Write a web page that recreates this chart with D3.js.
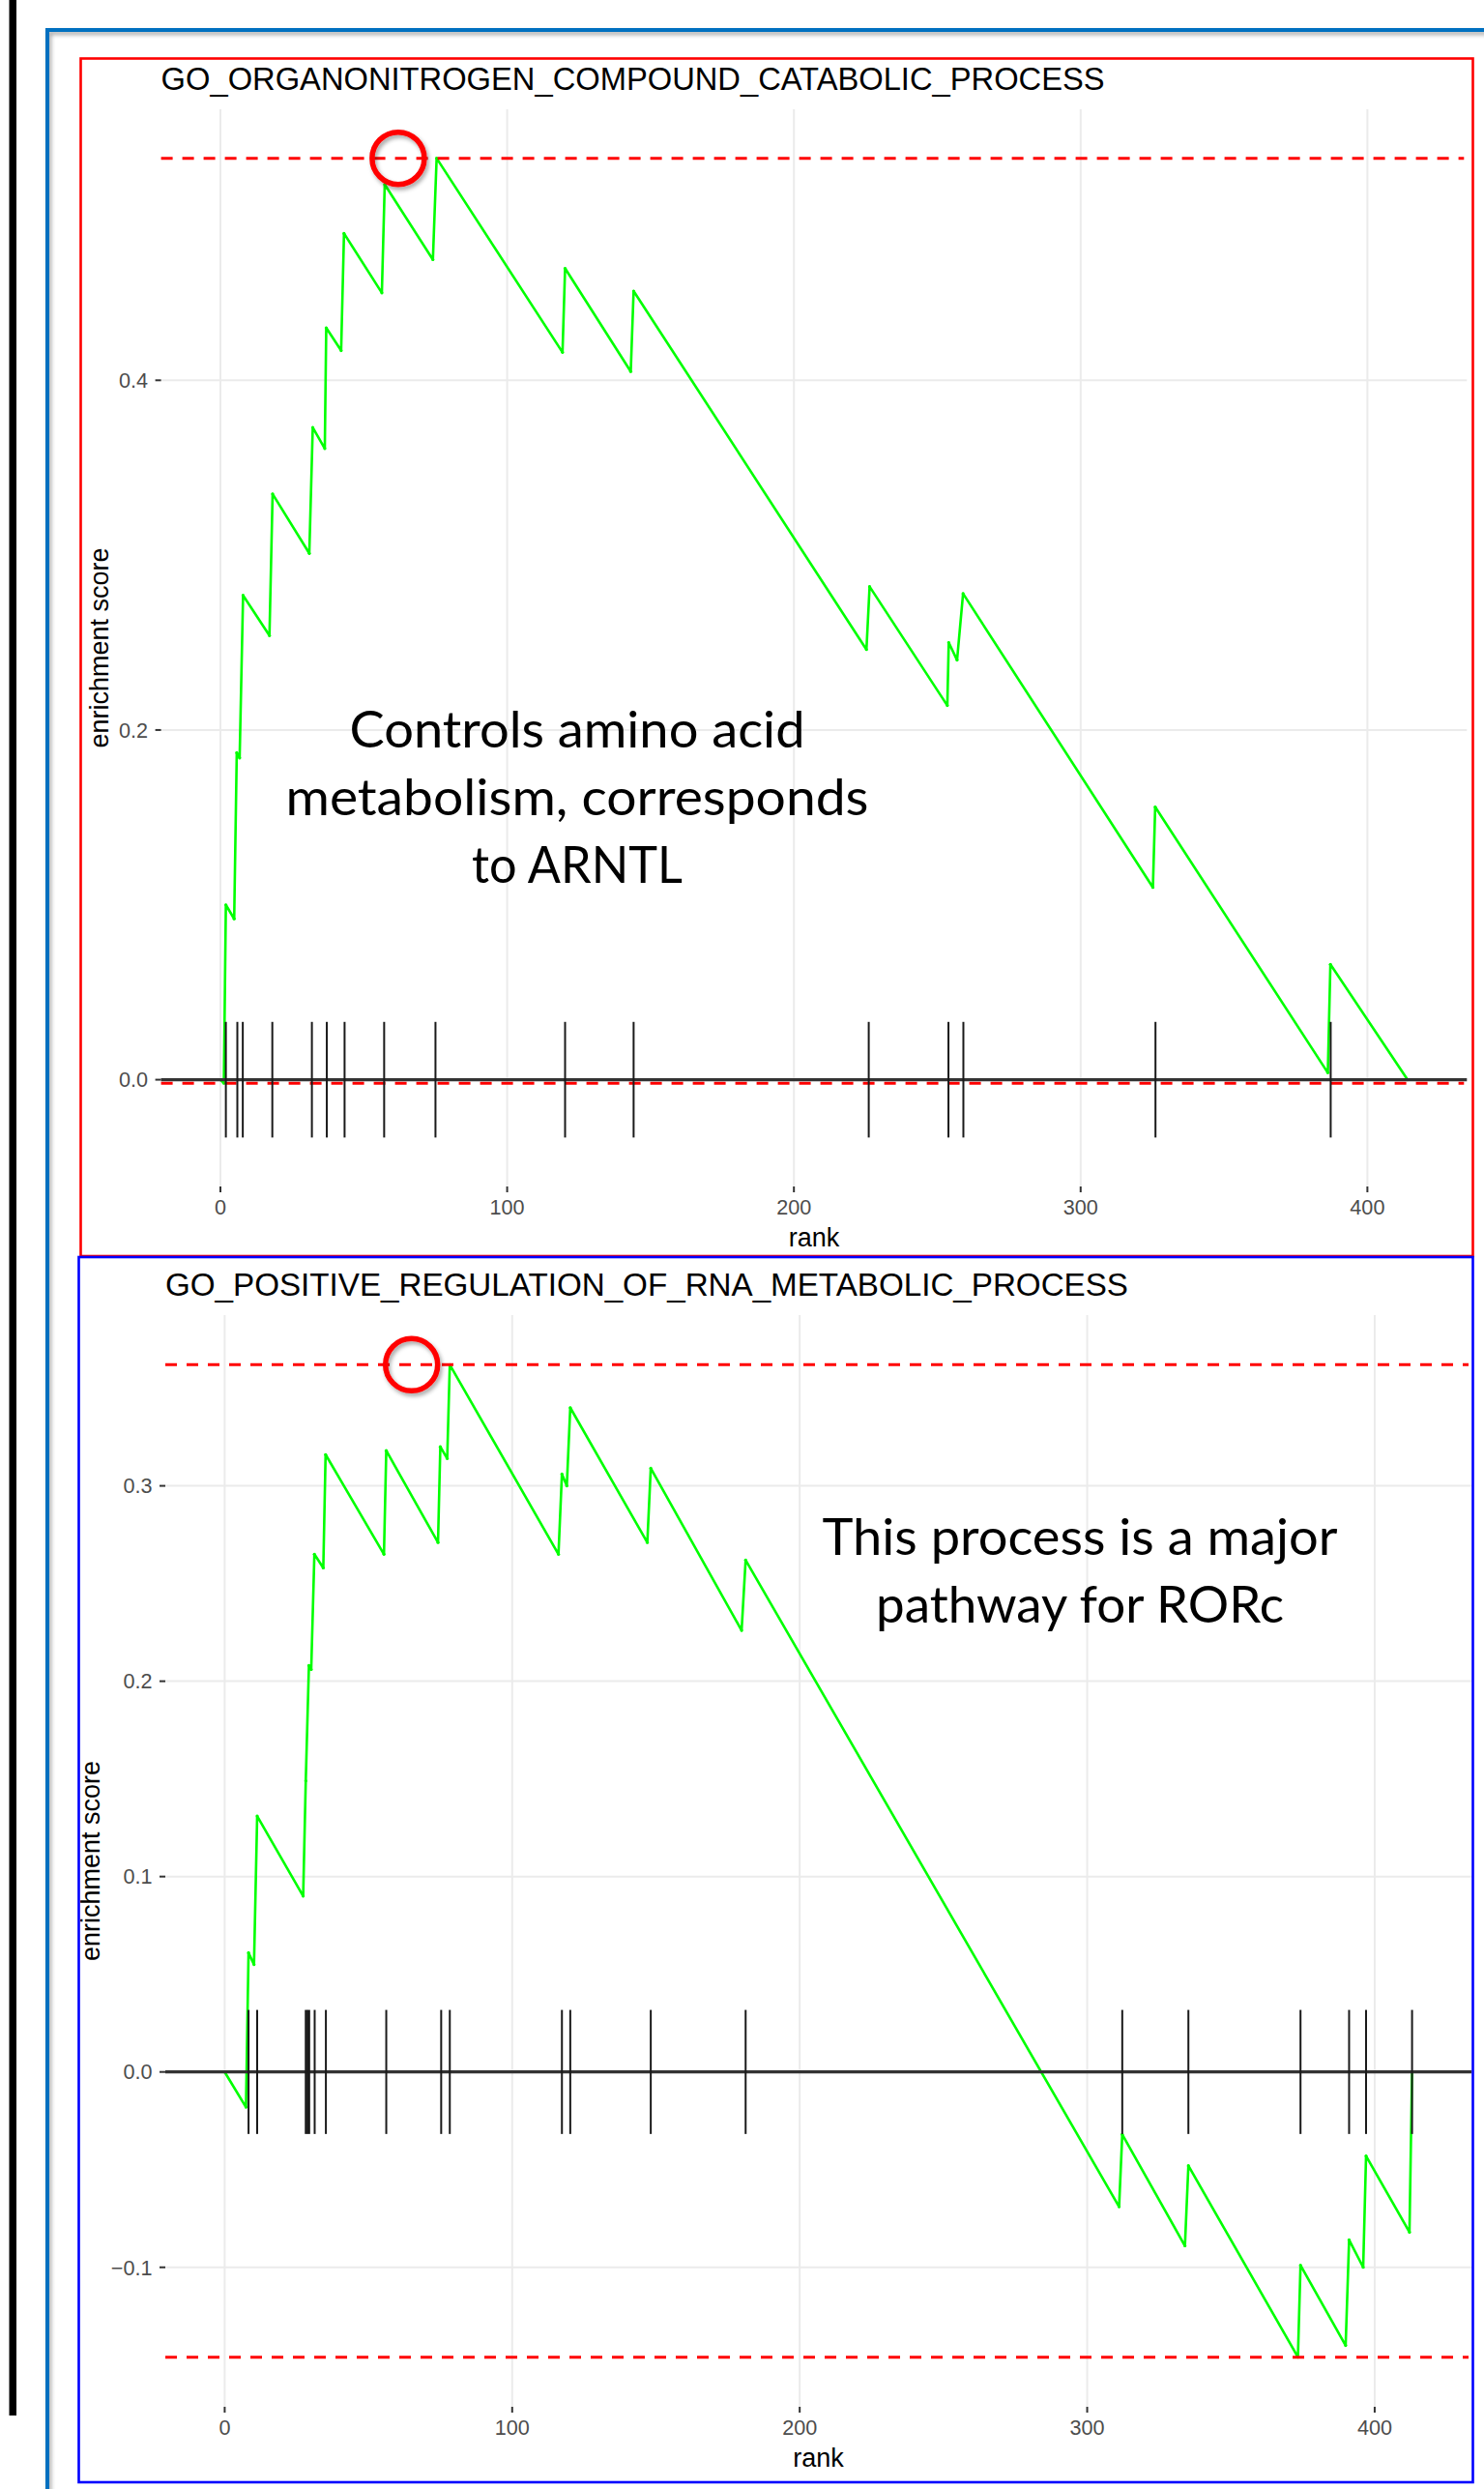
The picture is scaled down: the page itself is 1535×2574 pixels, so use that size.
<!DOCTYPE html>
<html>
<head>
<meta charset="utf-8">
<script src="https://cdn.jsdelivr.net/npm/d3@7"></script>
<style>
  body { margin: 0; background: #fff; }
  svg { display: block; }
</style>
</head>
<body>
<div id="chart"></div>
<script>
// ---- values ----
const xTicks = [0, 100, 200, 300, 400];

const title1 = "GO_ORGANONITROGEN_COMPOUND_CATABOLIC_PROCESS";
const rank1 = [0, 1.2, 1.9, 4.8, 5.7, 6.7, 7.9, 17.1, 18.2, 31, 32.2, 36.4, 36.9, 42.1, 43.1, 56.3, 57.3, 74.1, 75.4, 119.3,
    120.2, 143.1, 144.1, 225.3, 226.4, 253.5, 254, 256.9, 259, 325.2, 326, 386.2, 387.1, 414];
const es1 = [0, -0.002, 0.100, 0.092, 0.187, 0.184, 0.277, 0.254, 0.335, 0.301, 0.373, 0.361, 0.430, 0.417, 0.484, 0.450, 0.512, 0.469, 0.527, 0.416,
    0.464, 0.405, 0.451, 0.246, 0.282, 0.214, 0.250, 0.240, 0.278, 0.110, 0.156, 0.004, 0.066, 0];
const hits1 = [1.9, 5.9, 7.8, 18.1, 31.9, 37.1, 43.3, 57.1, 75.0, 120.2, 144.1, 226.1, 253.9, 259.1, 326.1, 387.2];
const yTicks1 = [0, 0.2, 0.4];
const note1 = ["Controls amino acid", "metabolism, corresponds", "to ARNTL"];

const title2 = "GO_POSITIVE_REGULATION_OF_RNA_METABOLIC_PROCESS";
const rank2 = [0, 7.4, 8.3, 10.2, 11.3, 27.3, 28.2, 29.3, 30.1, 31.2, 34.3, 35.1, 55.4, 56.2, 74.2, 75.0, 77.4, 78.3, 116.1, 117.3,
    119.0, 120.2, 147.0, 148.2, 179.8, 181.2, 311.1, 312.2, 334.0, 335.2, 373.3, 374.2, 389.9, 391.1, 396.0, 397.0, 412.1, 413.0];
const es2 = [0, -0.018, 0.061, 0.055, 0.131, 0.090, 0.149, 0.208, 0.206, 0.265, 0.258, 0.316, 0.265, 0.318, 0.271, 0.320, 0.314, 0.362, 0.265, 0.306,
    0.300, 0.340, 0.271, 0.309, 0.226, 0.262, -0.069, -0.032, -0.089, -0.048, -0.146, -0.099, -0.140, -0.086, -0.100, -0.043, -0.082, 0];
const hits2 = [8.3, 11.3, 28.2, 28.8, 29.4, 31.3, 35.2, 56.2, 75.3, 78.3, 117.3, 120.2, 148.2, 181.2, 312.2, 335.2, 374.2, 391.1, 397.0, 413.0];
const yTicks2 = [-0.1, 0, 0.1, 0.2, 0.3];
const note2 = ["This process is a major", "pathway for RORc"];

const W = 1535, H = 2574;
const sansFont = "'Liberation Sans', Arial, sans-serif";

const svg = d3.select("#chart").append("svg")
    .attr("width", W)
    .attr("height", H);

const defs = svg.append("defs");
defs.append("filter").attr("id", "shadow")
    .attr("x", "-20%").attr("y", "-20%").attr("width", "140%").attr("height", "140%")
    .append("feDropShadow")
    .attr("dx", 2).attr("dy", 3).attr("stdDeviation", 2)
    .attr("flood-color", "#000").attr("flood-opacity", 0.35);

class EnrichmentPlot {
    constructor(svg, cfg) {
        this.svg = svg;
        this.cfg = cfg;
        this.initVis();
    }

    initVis() {
        let vis = this;
        let c = vis.cfg;
        vis.g = vis.svg.append("g");

        vis.points = c.ranks.map((r, i) => ({ rank: r, es: c.es[i] }));
        vis.top = d3.max(c.es);
        vis.bottom = d3.min(c.es);
        let diff = (vis.top - vis.bottom) / 8;

        // ggplot style 5% expansion of the data range
        let xExt = d3.extent(c.ranks);
        let yExt = [Math.min(vis.bottom, -diff / 2), Math.max(vis.top, diff / 2)];
        let xPad = (xExt[1] - xExt[0]) * 0.05;
        let yPad = (yExt[1] - yExt[0]) * 0.05;

        vis.x = d3.scaleLinear()
            .domain([xExt[0] - xPad, xExt[1] + xPad])
            .range([c.left, c.right]);
        vis.y = d3.scaleLinear()
            .domain([yExt[0] - yPad, yExt[1] + yPad])
            .range([c.bottom, c.top]);

        // grid
        vis.g.selectAll(".vgrid").data(xTicks).enter().append("line")
            .attr("x1", d => vis.x(d)).attr("x2", d => vis.x(d))
            .attr("y1", c.top).attr("y2", c.bottom)
            .attr("stroke", "#ebebeb").attr("stroke-width", 2);
        vis.g.selectAll(".hgrid").data(c.yTicks).enter().append("line")
            .attr("x1", c.left).attr("x2", c.right)
            .attr("y1", d => vis.y(d)).attr("y2", d => vis.y(d))
            .attr("stroke", "#ebebeb").attr("stroke-width", 2);

        // running score
        let line = d3.line()
            .x(d => vis.x(d.rank))
            .y(d => vis.y(d.es));
        vis.g.append("path")
            .datum(vis.points)
            .attr("fill", "none")
            .attr("stroke", "#00ff00")
            .attr("stroke-width", 2.6)
            .attr("stroke-linejoin", "round")
            .attr("d", line);
        vis.g.selectAll(".pt").data(vis.points).enter().append("circle")
            .attr("cx", d => vis.x(d.rank)).attr("cy", d => vis.y(d.es))
            .attr("r", 1.6).attr("fill", "#00ff00");

        // max / min dashed lines
        vis.g.selectAll(".lim").data([vis.top, vis.bottom]).enter().append("line")
            .attr("x1", c.left).attr("x2", c.right - 3)
            .attr("y1", d => vis.y(d)).attr("y2", d => vis.y(d))
            .attr("stroke", "#ff0000").attr("stroke-width", 3)
            .attr("stroke-dasharray", "12 10");

        // zero line
        vis.g.append("line")
            .attr("x1", c.left).attr("x2", c.right)
            .attr("y1", vis.y(0)).attr("y2", vis.y(0))
            .attr("stroke", "#333").attr("stroke-width", 3.2);

        // hit ticks
        vis.g.selectAll(".hit").data(c.hits).enter().append("line")
            .attr("x1", d => vis.x(d)).attr("x2", d => vis.x(d))
            .attr("y1", vis.y(-diff / 2)).attr("y2", vis.y(diff / 2))
            .attr("stroke", "#1a1a1a").attr("stroke-width", 2);

        vis.drawAxes();
        vis.drawNotes();
    }

    drawAxes() {
        let vis = this;
        let c = vis.cfg;
        let fmt = d3.format(".1f");

        // y axis ticks + labels
        vis.g.selectAll(".yt").data(c.yTicks).enter().append("line")
            .attr("x1", c.left - 6).attr("x2", c.left)
            .attr("y1", d => vis.y(d)).attr("y2", d => vis.y(d))
            .attr("stroke", "#333").attr("stroke-width", 2);
        let ylabels = vis.g.selectAll(".yl").data(c.yTicks).enter().append("text")
            .attr("x", c.left - 13.5)
            .attr("y", d => vis.y(d))
            .attr("dy", "0.36em")
            .attr("text-anchor", "end")
            .attr("font-family", sansFont)
            .attr("font-size", 21.6)
            .attr("fill", "#4d4d4d")
            .text(d => fmt(d));

        // x axis ticks + labels
        vis.g.selectAll(".xt").data(xTicks).enter().append("line")
            .attr("x1", d => vis.x(d)).attr("x2", d => vis.x(d))
            .attr("y1", c.bottom).attr("y2", c.bottom + 6)
            .attr("stroke", "#333").attr("stroke-width", 2);
        vis.g.selectAll(".xl").data(xTicks).enter().append("text")
            .attr("x", d => vis.x(d))
            .attr("y", c.bottom + 28.5)
            .attr("text-anchor", "middle")
            .attr("font-family", sansFont)
            .attr("font-size", 21.6)
            .attr("fill", "#4d4d4d")
            .text(d => d);

        // axis titles
        vis.g.append("text")
            .attr("x", (c.left + c.right) / 2)
            .attr("y", c.bottom + 62)
            .attr("text-anchor", "middle")
            .attr("font-family", sansFont)
            .attr("font-size", 27)
            .attr("fill", "#000")
            .text("rank");

        let widest = d3.max(ylabels.nodes(), n => n.getComputedTextLength());
        let yTitleX = c.left - 13.5 - widest - 11.5;
        vis.g.append("text")
            .attr("transform", `translate(${yTitleX},${(c.top + c.bottom) / 2}) rotate(-90)`)
            .attr("text-anchor", "middle")
            .attr("font-family", sansFont)
            .attr("font-size", 27)
            .attr("fill", "#000")
            .text("enrichment score");

        // plot title
        vis.g.append("text")
            .attr("x", c.left)
            .attr("y", c.top - 20)
            .attr("font-family", sansFont)
            .attr("font-size", 32.6)
            .attr("fill", "#000")
            .attr("textLength", c.titleW)
            .attr("lengthAdjust", "spacingAndGlyphs")
            .text(c.title);
    }

    drawNotes() {
        let vis = this;
        let c = vis.cfg;

        // hand drawn circle near the peak
        vis.g.append("circle")
            .attr("cx", vis.x(c.circleAt))
            .attr("cy", vis.y(vis.top))
            .attr("r", 27)
            .attr("fill", "none")
            .attr("stroke", "#ff0000")
            .attr("stroke-width", 5.5)
            .attr("filter", "url(#shadow)");

        vis.g.selectAll(".note").data(c.note).enter().append("text")
            .attr("x", c.noteX)
            .attr("y", (d, i) => c.noteY + i * 70)
            .attr("text-anchor", "middle")
            .attr("font-family", "Lato, 'Open Sans', sans-serif")
            .attr("font-size", 52)
            .attr("fill", "#000")
            .attr("textLength", (d, i) => c.noteW[i])
            .attr("lengthAdjust", "spacingAndGlyphs")
            .text(d => d);

        // coloured frame round the panel
        vis.svg.append("rect")
            .attr("x", c.frame[0]).attr("y", c.frame[1])
            .attr("width", c.frame[2]).attr("height", c.frame[3])
            .attr("fill", "none")
            .attr("stroke", c.frameColor)
            .attr("stroke-width", 2.6);
    }
}

// outer slide decorations
svg.append("rect")
    .attr("x", 9.5).attr("y", 0)
    .attr("width", 7.5).attr("height", 2498)
    .attr("fill", "#000");
svg.append("path")
    .attr("d", "M49,2600 V31 H1560")
    .attr("fill", "none")
    .attr("stroke", "#0070c0")
    .attr("stroke-width", 4)
    .attr("filter", "url(#shadow)");

new EnrichmentPlot(svg, {
    title: title1, titleW: 976, ranks: rank1, es: es1, hits: hits1, yTicks: yTicks1,
    left: 166.6, right: 1517.3, top: 113, bottom: 1227,
    circleAt: 62,
    note: note1, noteX: 597, noteY: 773, noteW: [471, 603, 218],
    frame: [83.5, 60.5, 1440, 1238.5], frameColor: "#ff0000"
});

new EnrichmentPlot(svg, {
    title: title2, titleW: 996, ranks: rank2, es: es2, hits: hits2, yTicks: yTicks2,
    left: 171, right: 1522, top: 1360, bottom: 2489,
    circleAt: 65,
    note: note2, noteX: 1117, noteY: 1608, noteW: [533, 422],
    frame: [81.5, 1300, 1442, 1267], frameColor: "#0000ff"
});
</script>
</body>
</html>
